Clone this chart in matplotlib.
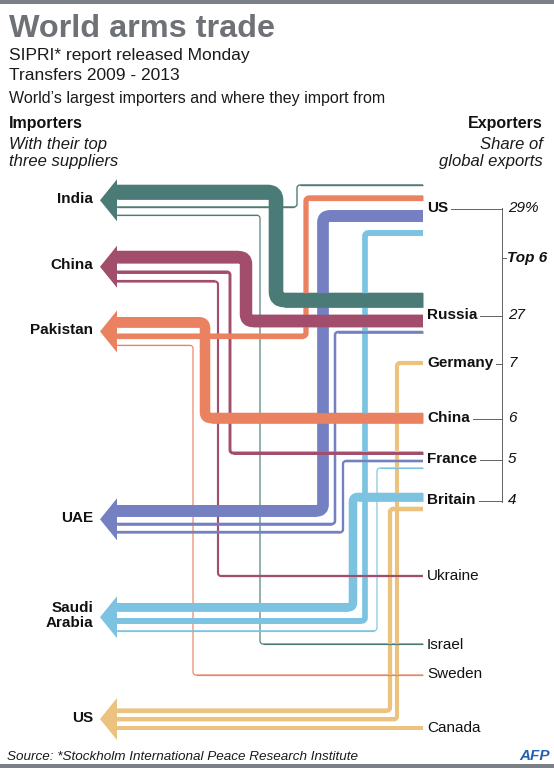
import matplotlib
matplotlib.use("Agg")
import matplotlib.pyplot as plt
from matplotlib.path import Path
from matplotlib.patches import PathPatch, Polygon, Rectangle
from matplotlib.lines import Line2D

plt.rcParams['font.family'] = ['Liberation Sans', 'DejaVu Sans']

# ---------------- data ----------------
importers = ["India", "China", "Pakistan", "UAE", "Saudi\nArabia", "US"]
suppliers = [
    ["Russia", "US", "Israel"],
    ["Russia", "France", "Ukraine"],
    ["China", "US", "Sweden"],
    ["US", "Russia", "France"],
    ["Britain", "US", "France"],
    ["Britain", "Germany", "Canada"],
]
# estimated share (%) of each importer's arms imports from each supplier
supplier_share = [
    [75, 7, 6],
    [64, 15, 11],
    [54, 27, 6],
    [60, 13, 12],
    [44, 29, 6],
    [22, 21, 19],
]
exporters = ["US", "Russia", "Germany", "China", "France", "Britain",
             "Ukraine", "Israel", "Sweden", "Canada"]
top6 = ["US", "Russia", "Germany", "China", "France", "Britain"]
top6_share = ["29%", "27", "7", "6", "5", "4"]

# ---------------- layout / style ----------------
W, H = 554, 768
colors = ["#4b7b77", "#a34d6d", "#ea8262", "#7480c2", "#7cc3e1", "#ebc27e"]
band_top = [184.7, 251, 317, 505, 603, 708.5]
band_gap = [7, 7, 6, 6, 6.5, 4.5]
turn_x = [[276, 297, 260], [246, 230, 218], [205, 306, 193],
          [323, 335, 343], [353, 365, 377], [390, 397, None]]
end_y = [[300, 185, 644], [321, 453, 576], [418, 198, 675],
         [216, 332, 461], [497, 233, 468], [509, 363, None]]
exporter_y = [208, 315, 363, 418, 459, 500, 576, 645, 674, 728]
PX_PER_PCT = 0.195
X_TIP, X_BASE, X_END = 100, 117, 423
HEAD_H = 42
BRACKET_X = 502
PT = 72.0 / 100.0  # points per pixel

fig = plt.figure(figsize=(W / 100, H / 100), dpi=100)
ax = fig.add_axes([0, 0, 1, 1])
ax.set_xlim(0, W)
ax.set_ylim(H, 0)
ax.axis('off')


def route_path(x0, y0, xv, y1, x1, r):
    if xv is None:
        return Path([(x0, y0), (x1, y0)], [Path.MOVETO, Path.LINETO])
    r = min(r, abs(y1 - y0) / 2.0)
    s = 1 if y1 > y0 else -1
    verts = [(x0, y0), (xv - r, y0), (xv, y0), (xv, y0 + s * r),
             (xv, y1 - s * r), (xv, y1), (xv + r, y1), (x1, y1)]
    codes = [Path.MOVETO, Path.LINETO, Path.CURVE3, Path.CURVE3,
             Path.LINETO, Path.CURVE3, Path.CURVE3, Path.LINETO]
    return Path(verts, codes)


flows = []
for i, imp in enumerate(importers):
    y = band_top[i]
    for j, sh in enumerate(supplier_share[i]):
        w = sh * PX_PER_PCT
        yc = y + w / 2.0
        xv = turn_x[i][j]
        y1 = end_y[i][j] if end_y[i][j] is not None else yc
        r = max(w * 0.55, 3.0)
        flows.append((i, j, yc, xv, y1, w, r))
        y = y + w + band_gap[i]
    # arrow head
    center = (band_top[i] + (y - band_gap[i])) / 2.0
    ax.add_patch(Polygon([(X_TIP, center), (X_BASE, center - HEAD_H / 2),
                          (X_BASE, center + HEAD_H / 2)], closed=True,
                         facecolor=colors[i], edgecolor='none', zorder=5))
    ax.text(93, center - 1.5, imp, ha='right', va='center', fontsize=11,
            fontweight='bold', color='#111111', linespacing=1.12,
            multialignment='right', zorder=6)

# pass 1: full routes (verticals + corners)
for (i, j, yc, xv, y1, w, r) in flows:
    p = route_path(X_BASE, yc, xv, y1, X_END, r)
    ax.add_patch(PathPatch(p, facecolor='none', edgecolor=colors[i],
                           linewidth=w * PT, capstyle='butt',
                           joinstyle='round', zorder=2))

# pass 2: horizontal runs on top
for (i, j, yc, xv, y1, w, r) in flows:
    if xv is None:
        segs = [((X_BASE, X_END), (yc, yc))]
    else:
        rr = min(r, abs(y1 - yc) / 2.0)
        segs = [((X_BASE, xv - rr), (yc, yc)), ((xv + rr, X_END), (y1, y1))]
    for xs, ys_ in segs:
        ax.add_line(Line2D(xs, ys_, color=colors[i], linewidth=w * PT,
                           solid_capstyle='butt', zorder=3))

# exporter labels
ex_texts = {}
for name, yy in zip(exporters, exporter_y):
    t = ax.text(427, yy, name, ha='left', va='center', fontsize=11,
                fontweight='bold' if name in top6 else 'normal',
                color='#111111', zorder=6)
    ex_texts[name] = t

fig.canvas.draw()
renderer = fig.canvas.get_renderer()
inv = ax.transData.inverted()
gray = '#666666'
ax.add_line(Line2D([BRACKET_X, BRACKET_X],
                   [exporter_y[0], exporter_y[len(top6) - 1] + 2],
                   color=gray, linewidth=1.0 * PT, zorder=4))
for k, name in enumerate(top6):
    bb = ex_texts[name].get_window_extent(renderer)
    xr = inv.transform((bb.x1, bb.y0))[0]
    yy = exporter_y[k] + 1
    ax.add_line(Line2D([xr + 3, BRACKET_X], [yy, yy], color=gray,
                       linewidth=1.0 * PT, zorder=4))
    ax.text(508, exporter_y[k], top6_share[k], ha='left', va='center',
            fontsize=11, fontstyle='italic', color='#111111')
ax.add_line(Line2D([BRACKET_X, BRACKET_X + 4], [258, 258], color=gray,
                   linewidth=1.0 * PT, zorder=4))
ax.text(507, 258, "Top 6", ha='left', va='center', fontsize=11,
        fontstyle='italic', fontweight='bold', color='#111111')

# header
ax.add_patch(Rectangle((0, 0), W, 3.5, facecolor='#7b8086', edgecolor='none'))
ax.add_patch(Rectangle((0, 763.5), W, 4.5, facecolor='#7b8086', edgecolor='none'))
ax.text(9, 37, "World arms trade", fontsize=23.3, fontweight='bold',
        color='#6e7176', va='baseline')
ax.text(9, 60, "SIPRI* report released Monday", fontsize=12.5,
        color='#1a1a1a', va='baseline')
ax.text(9, 80, "Transfers 2009 - 2013", fontsize=12.5, color='#1a1a1a',
        va='baseline')
ax.text(9, 103, "World\u2019s largest importers and where they import from",
        fontsize=11.5, color='#1a1a1a', va='baseline')
ax.text(9, 128, "Importers", fontsize=11.5, fontweight='bold',
        color='#111111', va='baseline')
ax.text(9, 149, "With their top", fontsize=12, fontstyle='italic',
        color='#1a1a1a', va='baseline')
ax.text(9, 166, "three suppliers", fontsize=12, fontstyle='italic',
        color='#1a1a1a', va='baseline')
ax.text(543, 128, "Exporters", fontsize=11.5, fontweight='bold',
        color='#111111', va='baseline', ha='right')
ax.text(543, 149, "Share of", fontsize=12, fontstyle='italic',
        color='#1a1a1a', va='baseline', ha='right')
ax.text(543, 166, "global exports", fontsize=12, fontstyle='italic',
        color='#1a1a1a', va='baseline', ha='right')

# footer
ax.text(7, 760, "Source: *Stockholm International Peace Research Institute",
        fontsize=9.7, fontstyle='italic', color='#1a1a1a', va='baseline')
ax.text(550, 760, "AFP", fontsize=11, fontstyle='italic', fontweight='bold',
        color='#2462b0', va='baseline', ha='right')

fig.savefig("out.png", dpi=100)
